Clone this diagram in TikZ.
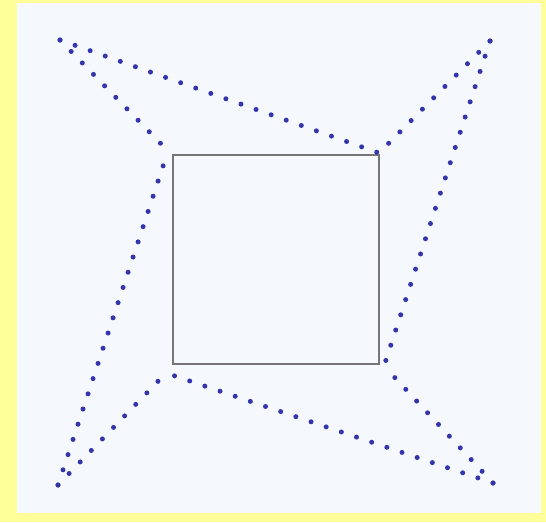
\documentclass[tikz,border=0pt]{standalone}
\usepackage{tikz}

\definecolor{pagebg}{RGB}{255,255,153}
\definecolor{paper}{RGB}{245,248,253}
\definecolor{dotblue}{RGB}{52,52,172}
\definecolor{boxgray}{RGB}{118,118,118}

\begin{document}
\begin{tikzpicture}[
            x=1pt,
            y=-1pt,
            square/.style={
                draw=boxgray,
                line width=2pt,
                minimum width=206pt,
                minimum height=209pt,
                inner sep=0pt
            },
            dotline/.style={
                draw=dotblue,
                line width=5pt,
                line cap=round,
                dash pattern=on 0pt off 16pt
            }
        ]
            % frame and paper
            \fill[pagebg] (0,0) rectangle (546,522);
            \fill[paper] (17,3) rectangle (541,513);
            \useasboundingbox (0,0) rectangle (546,522);

            \node[square] (sq) at (276,259.5) {};

            % outer points of the star
            \coordinate (ptl) at (60,40);
            \coordinate (ptr) at (490,41);
            \coordinate (pbl) at (58,485);
            \coordinate (pbr) at (493,483);

            % bends beside the corners of the square
            \coordinate (ctl) at (168,151);
            \coordinate (ctr) at (379,153);
            \coordinate (cbr) at (384,366);
            \coordinate (cbl) at (166,373);

            \draw[dotline] (ptl) -- (ctr);
            \draw[dotline] (ptr) -- (ctr);
            \draw[dotline] (ptr) -- (cbr);
            \draw[dotline] (pbr) -- (cbr);
            \draw[dotline] (pbr) -- (cbl);
            \draw[dotline] (pbl) -- (cbl);
            \draw[dotline] (pbl) -- (ctl);
            \draw[dotline] (ptl) -- (ctl);
        \end{tikzpicture}
\end{document}
